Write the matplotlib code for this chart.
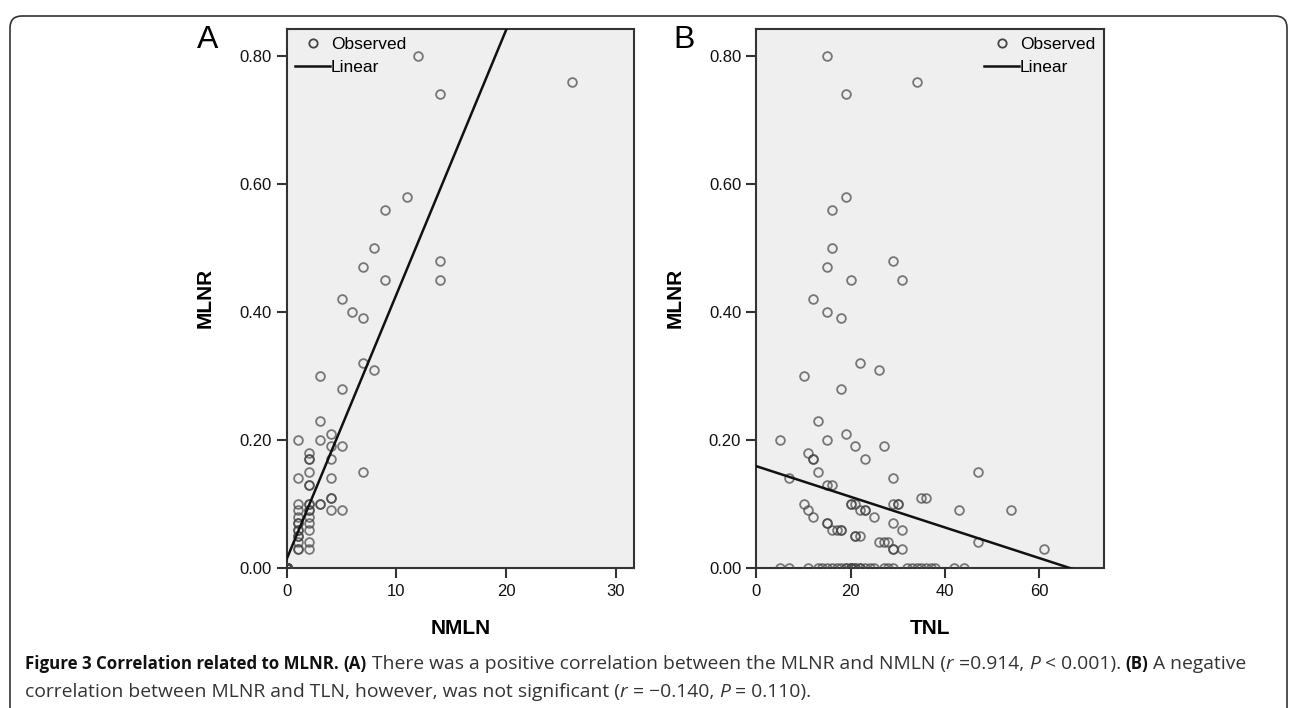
import numpy as np
import matplotlib
matplotlib.use("Agg")
import matplotlib.pyplot as plt
from matplotlib.lines import Line2D
from matplotlib.patches import FancyBboxPatch
from matplotlib.transforms import IdentityTransform
from matplotlib.font_manager import FontProperties

plt.rcParams['font.family'] = ['Liberation Sans', 'DejaVu Sans']

# Painel A: NMLN x MLNR
nmln = [12, 14, 26, 11, 9, 8, 7, 9, 14, 14, 5, 6, 7,
        7, 8, 3, 5, 3, 4, 1, 3, 4, 5, 2, 2, 2, 4, 7, 2, 1, 4, 2, 2, 4, 4,
        3, 3, 2, 2, 1, 2, 2, 1, 4, 5,
        1, 1, 1, 1, 1, 1, 1, 1, 1, 1,
        2, 2, 2, 2, 2] + [0] * 33
mlnr_a = [0.80, 0.74, 0.76, 0.58, 0.56, 0.50, 0.47, 0.45, 0.48, 0.45, 0.42, 0.40, 0.39,
          0.32, 0.31, 0.30, 0.28, 0.23, 0.21, 0.20, 0.20, 0.19, 0.19, 0.18, 0.17, 0.17, 0.17,
          0.15, 0.15, 0.14, 0.14, 0.13, 0.13, 0.11, 0.11,
          0.10, 0.10, 0.10, 0.10, 0.10, 0.09, 0.09, 0.09, 0.09, 0.09,
          0.08, 0.07, 0.07, 0.06, 0.06, 0.05, 0.05, 0.04, 0.03, 0.03,
          0.08, 0.07, 0.06, 0.04, 0.03] + [0.0] * 33

# Painel B: TNL x MLNR
tnl_zero = [5, 7, 11, 13, 14, 15, 16, 17, 18, 19, 19, 20, 20, 20, 21, 21, 22, 22,
            23, 24, 25, 27, 28, 29, 32, 33, 34, 35, 36, 37, 38, 42, 44]
tnl = [15, 19, 34, 19, 16, 16, 15, 20, 29, 31, 12, 15, 18,
       22, 26, 10, 18, 13, 19, 5, 15, 21, 27, 11, 12, 12, 23, 13, 47, 7, 29,
       15, 16, 35, 36, 10, 20, 20, 21, 29, 30, 30, 11, 22, 23, 23, 43, 54,
       12, 25, 15, 15, 29, 16, 17, 18, 18, 31, 21, 21, 22, 26, 27, 28, 47,
       29, 29, 31, 61] + tnl_zero
mlnr_b = [0.80, 0.74, 0.76, 0.58, 0.56, 0.50, 0.47, 0.45, 0.48, 0.45, 0.42, 0.40, 0.39,
          0.32, 0.31, 0.30, 0.28, 0.23, 0.21, 0.20, 0.20, 0.19, 0.19, 0.18, 0.17, 0.17, 0.17,
          0.15, 0.15, 0.14, 0.14,
          0.13, 0.13, 0.11, 0.11, 0.10, 0.10, 0.10, 0.10, 0.10, 0.10, 0.10, 0.09, 0.09, 0.09,
          0.09, 0.09, 0.09,
          0.08, 0.08, 0.07, 0.07, 0.07, 0.06, 0.06, 0.06, 0.06, 0.06, 0.05, 0.05, 0.05,
          0.04, 0.04, 0.04, 0.04,
          0.03, 0.03, 0.03, 0.03] + [0.0] * len(tnl_zero)

# Retas de regressão (intercepto, inclinação)
fit_a = (0.014, 0.0413)
fit_b = (0.159, -0.00239)

W, H = 1290, 708
fig = plt.figure(figsize=(W / 100, H / 100), dpi=100)

# Moldura arredondada
frame = FancyBboxPatch((10, -30), 1277, 722, boxstyle="round,pad=0,rounding_size=12",
                       transform=IdentityTransform(), fill=False, edgecolor='#333333',
                       linewidth=1.2, figure=fig)
fig.patches.append(frame)

ax_left = [286.7, 756.5]
ax_w, ax_top, ax_bot = 347.5, 28.5, 568

panels = [
    (nmln, mlnr_a, fit_a, 31.7, [0, 10, 20, 30], 'NMLN', 'A', 'upper left', 208),
    (tnl, mlnr_b, fit_b, 73.8, [0, 20, 40, 60], 'TNL', 'B', 'upper right', 684),
]

for left, (xs, ys, fit, xmax, xt, xlabel, letter, loc, lx) in zip(ax_left, panels):
    ax = fig.add_axes([left / W, 1 - ax_bot / H, ax_w / W, (ax_bot - ax_top) / H])
    ax.set_facecolor('#efefef')
    ax.plot(xs, ys, 'o', ms=6.3, mfc='none', mec='#444444', mew=1.3, alpha=0.7, zorder=3)
    xl = np.array([0, xmax])
    ax.plot(xl, fit[0] + fit[1] * xl, color='#111111', lw=1.8, zorder=4)
    ax.set_xlim(0, xmax)
    ax.set_ylim(0, 0.843)
    ax.set_xticks(xt)
    ax.set_yticks([0, 0.2, 0.4, 0.6, 0.8])
    ax.set_yticklabels(['0.00', '0.20', '0.40', '0.60', '0.80'])
    ax.tick_params(direction='out', length=7.5, width=1.5, color='#333333',
                   labelsize=12, labelcolor='#111111', pad=3.5)
    ax.tick_params(axis='x', pad=4)
    for s in ax.spines.values():
        s.set_linewidth(1.5)
        s.set_color('#333333')
    ax.set_xlabel(xlabel, fontsize=15, fontweight='bold', va='center')
    ax.xaxis.set_label_coords(0.5, -(628 - ax_bot) / (ax_bot - ax_top))
    ax.set_ylabel('MLNR', fontsize=15, fontweight='bold', va='center')
    ax.yaxis.set_label_coords(-81.7 / ax_w, 0.5)

    handles = [Line2D([], [], marker='o', ls='none', ms=6, mfc='none', mec='#444444', mew=1.3),
               Line2D([], [], color='#111111', lw=1.8)]
    ax.legend(handles, ['Observed', 'Linear'], loc=loc, frameon=False, fontsize=12.5,
              handlelength=2.0, handletextpad=0.05, labelspacing=0.45,
              borderaxespad=0.2, borderpad=0.3)

    fig.text(lx / W, 1 - 40 / H, letter, fontsize=23, ha='center', va='center')

# Legenda da figura com estilos misturados
fig.canvas.draw()
renderer = fig.canvas.get_renderer()


def rich_line(x_px, y_px, parts):
    x = x_px
    for s, weight, style, size in parts:
        prop = FontProperties(family='Open Sans', weight=weight, style=style, size=size)
        color = '#111111' if weight == 'bold' else '#333333'
        fig.text(x / W, 1 - y_px / H, s, fontproperties=prop, va='center', ha='left',
                 color=color)
        w1, _, _ = renderer.get_text_width_height_descent(s + '.', prop, ismath=False)
        w2, _, _ = renderer.get_text_width_height_descent('.', prop, ismath=False)
        x += w1 - w2


bsize, nsize = 12.2, 13.9
line1 = [("Figure 3 Correlation related to MLNR.", 'bold', 'normal', bsize),
         (" ", 'normal', 'normal', nsize),
         ("(A)", 'bold', 'normal', bsize),
         (" There was a positive correlation between the MLNR and NMLN (", 'normal', 'normal', nsize),
         ("r", 'normal', 'italic', nsize),
         (" =0.914, ", 'normal', 'normal', nsize),
         ("P", 'normal', 'italic', nsize),
         (" < 0.001). ", 'normal', 'normal', nsize),
         ("(B)", 'bold', 'normal', bsize),
         (" A negative", 'normal', 'normal', nsize)]
line2 = [("correlation between MLNR and TLN, however, was not significant (", 'normal', 'normal', nsize),
         ("r", 'normal', 'italic', nsize),
         (" = \u22120.140, ", 'normal', 'normal', nsize),
         ("P", 'normal', 'italic', nsize),
         (" = 0.110).", 'normal', 'normal', nsize)]
rich_line(25, 664, line1)
rich_line(25, 692, line2)

fig.savefig('out.png', dpi=100)
